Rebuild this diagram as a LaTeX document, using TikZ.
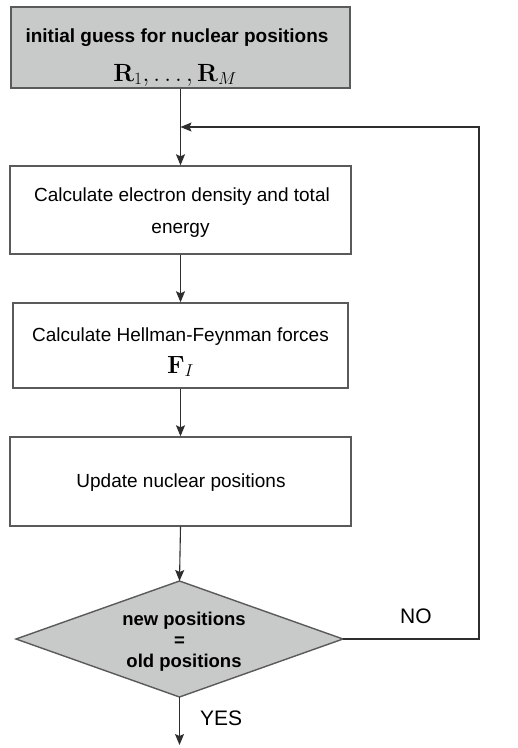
\documentclass[tikz,border=0pt]{standalone}
\usepackage[no-math]{fontspec}
\setmainfont{Liberation Sans}
\usetikzlibrary{arrows.meta}
\definecolor{boxgray}{HTML}{C8C9C9}
\definecolor{edgegray}{HTML}{5A5A5A}
\definecolor{linegray}{HTML}{2E2E2E}
\tikzset{
  box/.style={draw=edgegray, line width=1.4pt, rectangle, inner sep=0pt},
  startbox/.style={box, fill=boxgray},
  txt/.style={inner sep=0pt, anchor=base, text=black, font=\fontsize{19}{22}\selectfont},
  btxt/.style={txt, font=\bfseries\fontsize{19}{22}\selectfont},
  mtxt/.style={txt, font=\fontsize{24}{26}\selectfont},
  dtxt/.style={txt, font=\bfseries\fontsize{18.5}{21}\selectfont},
  decshape/.style={draw=edgegray, line width=1.4pt, fill=boxgray, line join=miter},
  conn/.style={draw=linegray, line width=1.1pt},
  arr/.style={conn, -{Stealth[length=11pt,width=9pt,inset=2pt]}},
  lbl/.style={font=\fontsize{21}{24}\selectfont, inner sep=0pt, anchor=base west}
}
\begin{document}
\begin{tikzpicture}[x=1pt,y=-1pt]
\useasboundingbox (0,0) rectangle (518,748);
\fill[white] (0,0) rectangle (518,748);
% boxes
\node[startbox, minimum width=339pt, minimum height=81pt] (init) at (180.5,47.5) {};
\node[box, minimum width=341pt, minimum height=88pt] (dens) at (180.5,210) {};
\node[box, minimum width=335pt, minimum height=85pt] (force) at (180.5,345.5) {};
\node[box, minimum width=341pt, minimum height=89pt] (upd) at (180.5,481.5) {};
% box texts
\node[btxt] (init-t1) at (177,42) {initial guess for nuclear positions};
\node[mtxt] (init-t2) at (175,81) {$\mathbf{R}_1,\ldots,\mathbf{R}_M$};
\node[txt] (dens-t1) at (182,201.5) {Calculate electron density and total};
\node[txt] (dens-t2) at (180.5,233) {energy};
\node[txt] (force-t1) at (180.5,341.5) {Calculate Hellman-Feynman forces};
\node[mtxt] (force-t2) at (180.5,373) {$\mathbf{F}_I$};
\node[txt] (upd-t) at (181,487) {Update nuclear positions};
% decision diamond
\coordinate (dec-n) at (179.5,581);
\coordinate (dec-e) at (343,639);
\coordinate (dec-s) at (179.5,697);
\coordinate (dec-w) at (16,639);
\filldraw[decshape] (dec-n) -- (dec-e) -- (dec-s) -- (dec-w) -- cycle;
\node[dtxt] (dec-t1) at (184,625) {new positions};
\node[dtxt] (dec-t2) at (179.5,646) {=};
\node[dtxt] (dec-t3) at (184,667) {old positions};
% connectors
\coordinate (join) at (180.5,127);
\coordinate (rt) at (479,639);
\coordinate (rtop) at (479,127);
\coordinate (endp) at (179.5,745);
\draw[conn] (init.south) -- (join);
\draw[arr] (join) -- (dens.north);
\draw[arr] (dens.south) -- (force.north);
\draw[arr] (force.south) -- (upd.north);
\draw[arr] (upd.south) -- (dec-n);
\draw[arr] (dec-e) -- (rt) -- (rtop) -- (join);
\draw[arr] (dec-s) -- (endp);
\node[lbl] (no) at (400,623) {NO};
\node[lbl] (yes) at (200,725) {YES};
\end{tikzpicture}
\end{document}
